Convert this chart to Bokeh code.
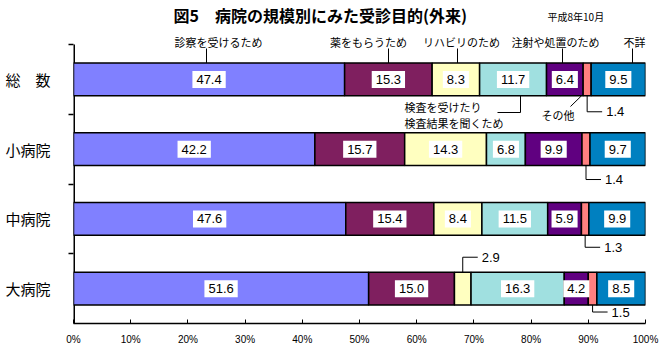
from bokeh.plotting import figure
from bokeh.models import Range1d, LinearAxis, FixedTicker, PrintfTickFormatter, Label
from bokeh.core.properties import value
from bokeh.embed import file_html
from bokeh.resources import INLINE
import numpy as np

# ---------------- data ----------------
categories = ["総　数", "小病院", "中病院", "大病院"]
series_names = ["診察を受けるため", "薬をもらうため", "リハビリのため",
                "検査を受けたり検査結果を聞くため", "注射や処置のため", "その他", "不詳"]
diag = [47.4, 42.2, 47.6, 51.6]
med = [15.3, 15.7, 15.4, 15.0]
rehab = [8.3, 14.3, 8.4, 2.9]
exam = [11.7, 6.8, 11.5, 16.3]
inj = [6.4, 9.9, 5.9, 4.2]
other = [1.4, 1.4, 1.3, 1.5]
unknown = [9.5, 9.7, 9.9, 8.5]
x_ticks = [0, 10, 20, 30, 40, 50, 60, 70, 80, 90, 100]
title_text = "図5　病院の規模別にみた受診目的(外来)"
date_text = "平成8年10月"

# ---------------- style ----------------
colors = ["#8080FF", "#7F1F5F", "#FFFFC0", "#A0E0E0", "#600080", "#FF8080", "#0080C0"]
W, H = 668, 352
L, R, T, B = 73, 23, 44, 29
FW = W - L - R
PPU = (H - T - B) / 4.0  # pixels per category unit
JP = "Noto Sans CJK JP"
NUM = "Liberation Sans"

def px2x(px):
    return (px - L) * 100.0 / FW

def px2y(py):
    return 4.0 - (py - T) / PPU

p = figure(width=W, height=H, x_range=Range1d(0, 100), y_range=Range1d(0, px2y(0)),
           output_backend="svg", toolbar_location=None,
           x_axis_type=None, y_axis_type=None,
           min_border_left=L, min_border_right=R, min_border_top=0, min_border_bottom=B)
p.outline_line_color = None
p.xgrid.visible = False
p.ygrid.visible = False
p.background_fill_color = "white"
p.border_fill_color = "white"

xaxis = LinearAxis(ticker=FixedTicker(ticks=x_ticks), formatter=PrintfTickFormatter(format="%d%%"))
xaxis.major_tick_in = 4
xaxis.major_tick_out = 0
xaxis.minor_tick_line_color = None
xaxis.axis_line_color = "black"
xaxis.axis_line_width = 1.5
xaxis.major_label_standoff = 10
xaxis.major_label_text_font = NUM
xaxis.major_label_text_font_size = "10px"
xaxis.major_label_text_color = "black"
p.add_layout(xaxis, "below")

n = len(categories)
ys = [n - i - 0.5 for i in range(n)]

yaxis = LinearAxis(ticker=FixedTicker(ticks=ys, minor_ticks=[1, 2, 3, 4]),
                   major_label_overrides={float(y): c for y, c in zip(ys, categories)})
yaxis.major_tick_in = 0
yaxis.major_tick_out = 0
yaxis.minor_tick_in = 0
yaxis.minor_tick_out = 5
yaxis.minor_tick_line_color = "black"
yaxis.minor_tick_line_width = 1.5
yaxis.axis_line_color = None
yaxis.major_label_standoff = 18
yaxis.major_label_text_font = JP
yaxis.major_label_text_font_size = "15px"
yaxis.major_label_text_color = "black"
p.add_layout(yaxis, "left")

# visible y axis line (from bottom axis up to top of the category area)
p.segment(x0=0, y0=0, x1=0, y1=4, line_color="black", line_width=3)

ys = np.array(ys)
series = [diag, med, rehab, exam, inj, other, unknown]
bar_h = 0.47
half = bar_h / 2

cum = np.zeros(n)
mids = []
for vals, c in zip(series, colors):
    v = np.array(vals)
    p.hbar(y=ys, left=cum, right=cum + v, height=bar_h, fill_color=c,
           line_color="black", line_width=1.5)
    mids.append(cum + v / 2)
    cum = cum + v

# in-bar value labels
lx, ly, lt = [], [], []
for j, vals in enumerate(series):
    for i, v in enumerate(vals):
        if j == 5 or v < 4:
            continue
        lx.append(mids[j][i]); ly.append(ys[i]); lt.append(f"{v:.1f}")
p.text(x=lx, y=ly, text=lt, text_align="center", text_baseline="middle",
       text_font=value(NUM), text_font_size="13px", text_color="black",
       background_fill_color="white", padding=4)

# title & date
p.add_layout(Label(x=px2x(173), y=px2y(14), text=title_text, text_align="left", text_baseline="middle",
                   text_font=JP, text_font_size="16px", text_font_style="bold", text_color="black"))
p.add_layout(Label(x=px2x(547), y=px2y(16), text=date_text, text_align="left", text_baseline="middle",
                   text_font=JP, text_font_size="10px", text_color="black"))

# top series labels with leaders (row 0)
top_idx = [0, 1, 2, 4, 6]
top_text_px = [218, 368, 461, 555, 634]
top_leader_px = [206, 388, 457, 562, 632]
y_top_bar = ys[0] + half
for k, j in enumerate(top_idx):
    p.add_layout(Label(x=px2x(top_text_px[k]), y=px2y(41), text=series_names[j], text_align="center",
                       text_baseline="middle", text_font=JP, text_font_size="11px", text_color="black"))
    p.segment(x0=px2x(top_leader_px[k]), y0=px2y(48), x1=px2x(top_leader_px[k]), y1=y_top_bar,
              line_color="black", line_width=1)

# exam label below row 0
y_bot0 = ys[0] - half
ex_x = px2x(520)
p.segment(x0=[ex_x, px2x(497)], y0=[y_bot0, px2y(112)], x1=[ex_x, ex_x], y1=[px2y(112), px2y(112)],
          line_color="black", line_width=1)
p.add_layout(Label(x=px2x(404), y=px2y(106), text="検査を受けたり", text_align="left", text_baseline="middle",
                   text_font=JP, text_font_size="11px", text_color="black"))
p.add_layout(Label(x=px2x(404), y=px2y(122), text="検査結果を聞くため", text_align="left", text_baseline="middle",
                   text_font=JP, text_font_size="11px", text_color="black"))
# その他
p.add_layout(Label(x=px2x(541), y=px2y(114), text=series_names[5], text_align="left", text_baseline="middle",
                   text_font=JP, text_font_size="11px", text_color="black"))
p.segment(x0=px2x(570), y0=px2y(106), x1=px2x(581), y1=y_bot0, line_color="black", line_width=1)

# small values below bars (その他)
drops_px = [16, 14, 12, 7]
run = 15 * 100.0 / FW
gap = 4 * 100.0 / FW
for i in range(n):
    x0 = mids[5][i]
    yb = ys[i] - half
    drop = drops_px[i] / PPU
    p.segment(x0=[x0, x0], y0=[yb, yb - drop], x1=[x0, x0 + run], y1=[yb - drop, yb - drop],
              line_color="black", line_width=1)
    p.add_layout(Label(x=x0 + run + gap, y=yb - drop, text=f"{other[i]:.1f}", text_align="left",
                       text_baseline="middle", text_font=NUM, text_font_size="13px", text_color="black"))

# small rehab value above last bar
for i in range(n):
    if rehab[i] < 4:
        x0 = mids[2][i]
        yt = ys[i] + half
        drop = 15 / PPU
        p.segment(x0=[x0, x0], y0=[yt, yt + drop], x1=[x0, x0 + run], y1=[yt + drop, yt + drop],
                  line_color="black", line_width=1)
        p.add_layout(Label(x=x0 + run + gap, y=yt + drop, text=f"{rehab[i]:.1f}", text_align="left",
                           text_baseline="middle", text_font=NUM, text_font_size="13px", text_color="black"))

open("out.html", "w").write(file_html(p, INLINE))
